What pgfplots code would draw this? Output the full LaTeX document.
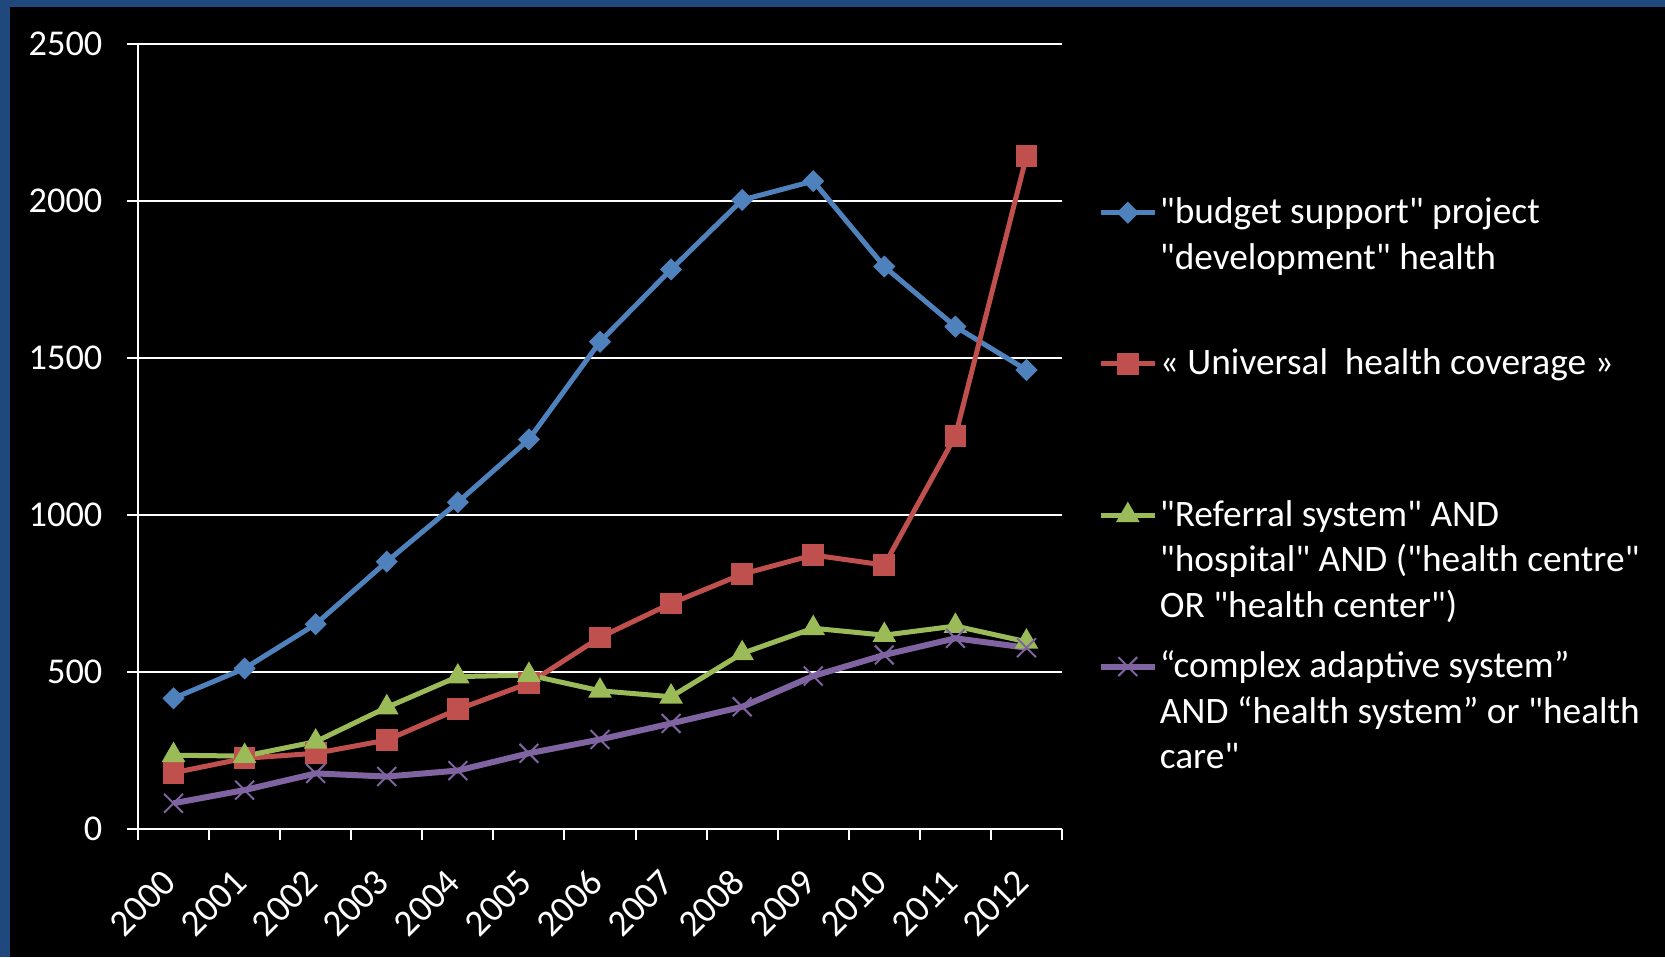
\documentclass[border=0pt]{standalone}
\usepackage{pgfplots}
\pgfplotsset{compat=1.18}
\usepackage{fontspec}
\setmainfont{Carlito}[Ligatures=TeXOff]
\definecolor{bgblue}{RGB}{31,73,125}
\definecolor{sblue}{RGB}{79,129,189}
\definecolor{sred}{RGB}{192,80,77}
\definecolor{sgreen}{RGB}{155,187,89}
\definecolor{spurple}{RGB}{128,100,162}
\newcommand\chartfont{\fontsize{10.9}{13.7}\selectfont}
\newcommand\legfont{\fontsize{11.2}{13.7}\selectfont}
\begin{document}
\begin{tikzpicture}
\fill[black] (0pt,0pt) rectangle (499.5pt,287.1pt);
\fill[bgblue] (0pt,285pt) rectangle (499.5pt,287.1pt);
\fill[bgblue] (0pt,0pt) rectangle (3pt,287.1pt);
\begin{axis}[
  at={(41.4pt,38.4pt)}, anchor=south west,
  width=277.2pt, height=235.65pt, scale only axis,
  xmin=-0.5, xmax=12.5, ymin=0, ymax=2500,
  xtick={-0.5,0.5,...,12.5}, x tick label as interval,
  xticklabels={2000,2001,2002,2003,2004,2005,2006,2007,2008,2009,2010,2011,2012},
  ytick={0,500,...,2500},
  ymajorgrids, grid style={white, line width=0.6pt},
  axis x line*=bottom, axis y line*=left,
  axis line style={white, line width=0.6pt, -},
  tick style={white, line width=0.6pt},
  tick align=outside, major tick length=3.3pt,
  tick label style={font=\chartfont, text=white},
  /pgf/number format/1000 sep={}, /pgf/number format/assume math mode=true,
  yticklabel style={anchor=east, inner sep=0pt, xshift=-7.2pt},
  xticklabel style={font=\legfont, rotate=45, anchor=east, inner sep=0pt, xshift=-8.35pt, yshift=-6.85pt},
  clip=false,
  legend cell align=left,
  legend style={at={(1.0384,0.8122)}, anchor=north west, draw=none, fill=none,
    text=white, font=\legfont, inner sep=0pt, row sep=0pt, column sep=0.7pt,
    nodes={inner sep=0pt, text depth=35.8pt}, cells={anchor=base west}},
  legend image code/.code={\draw[mark repeat=2,mark phase=2,#1] plot coordinates {(0pt,3.3pt)(8pt,3.3pt)(16pt,3.3pt)};},
]
\addplot[sblue, line width=1.5pt, mark=square*, mark size=2.1pt, mark options={fill=sblue, solid, rotate=45, line width=0.5pt}] coordinates {
(0,416) (1,511) (2,652) (3,851) (4,1040) (5,1240) (6,1551) (7,1781) (8,2002) (9,2062) (10,1790) (11,1599) (12,1461)};
\addlegendentry{\begin{tabular}[t]{@{}l@{}}"budget support" project\\"development" health\end{tabular}}
\addplot[sred, line width=1.5pt, mark=square*, mark size=3pt, mark options={fill=sred, solid, line width=0.5pt}] coordinates {
(0,179) (1,225) (2,241) (3,283) (4,381) (5,464) (6,610) (7,718) (8,811) (9,872) (10,840) (11,1251) (12,2141)};
\addlegendentry{\begin{tabular}[t]{@{}l@{}}« Universal\ \ health coverage »\end{tabular}}
\addplot[sgreen, line width=1.5pt, mark=triangle*, mark size=3.6pt, mark options={fill=sgreen, solid, line width=0.5pt}] coordinates {
(0,235) (1,232) (2,278) (3,387) (4,485) (5,490) (6,440) (7,421) (8,559) (9,639) (10,617) (11,646) (12,596)};
\addlegendentry{\begin{tabular}[t]{@{}l@{}}"Referral system" AND\\"hospital" AND ("health centre"\\OR "health center")\end{tabular}}
\addplot[spurple, line width=1.8pt, mark=x, mark size=4pt, mark options={solid, line width=0.6pt}] coordinates {
(0,82) (1,124) (2,177) (3,167) (4,186) (5,241) (6,285) (7,336) (8,389) (9,487) (10,554) (11,607) (12,577)};
\addlegendentry{\begin{tabular}[t]{@{}l@{}}“complex adaptive system”\\AND “health system” or "health\\care"\end{tabular}}
\end{axis}
\pgfresetboundingbox
\path[use as bounding box] (0pt,0pt) rectangle (499.5pt,287.1pt);
\end{tikzpicture}
\end{document}
